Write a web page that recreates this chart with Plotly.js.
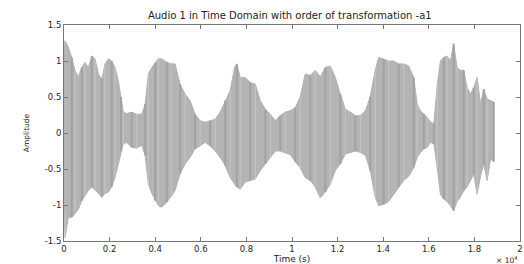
<!DOCTYPE html>
<html>
<head>
<meta charset="utf-8">
<script src="https://cdn.plot.ly/plotly-3.0.1.min.js"></script>
<style>html,body{margin:0;padding:0;background:#fff;}#chart{width:524px;height:264px;}</style>
</head>
<body>
<div id="chart"></div>
<script>
// Sample index (time axis, samples) at which the waveform envelope was read
const sampleX = [0,50,190,340,480,630,780,920,1070,1220,1360,1510,1660,1800,1950,2090,2240,2380,2500,2600,2750,2970,3190,3410,3560,3700,3850,4000,4140,4290,4510,4700,4870,5090,5310,5530,5750,5970,6190,6410,6630,6850,7070,7290,7480,7580,7730,7950,8170,8390,8610,8830,9050,9270,9480,9700,9920,10140,10360,10580,10800,11020,11240,11460,11680,11900,12120,12340,12560,12780,13000,13220,13430,13650,13800,14020,14240,14460,14680,14900,15120,15340,15490,15630,15780,15930,16070,16220,16370,16510,16660,16800,16950,17090,17240,17390,17530,17680,17830,17970,18120,18270,18410,18560,18710,18850];
// Upper envelope (max amplitude) at each sample
const upperEnv = [1.22,1.28,1.19,1.05,0.87,0.78,0.91,0.98,0.91,1.07,1.03,0.82,0.75,0.96,1.03,1.0,0.91,0.73,0.5,0.29,0.27,0.29,0.26,0.26,0.4,0.82,0.91,0.98,1.03,1.03,0.98,0.96,0.96,0.68,0.54,0.45,0.26,0.17,0.15,0.17,0.19,0.29,0.45,0.59,0.91,0.96,0.77,0.77,0.70,0.68,0.45,0.33,0.26,0.17,0.24,0.29,0.31,0.35,0.5,0.82,0.8,0.87,0.78,0.91,0.93,0.77,0.54,0.33,0.29,0.24,0.24,0.31,0.5,0.87,1.05,1.03,1.0,1.0,0.96,0.96,0.93,0.77,0.4,0.31,0.26,0.22,0.15,0.13,0.66,1.0,1.05,1.07,1.0,1.24,0.91,0.87,0.87,0.63,0.54,0.63,0.77,0.4,0.61,0.47,0.45,0.43];
// Lower envelope (min amplitude) at each sample
const lowerEnv = [-1.1,-1.45,-1.17,-1.17,-1.12,-1.06,-0.94,-0.87,-0.80,-0.75,-0.80,-0.84,-0.89,-0.84,-0.82,-0.75,-0.62,-0.43,-0.25,-0.15,-0.13,-0.2,-0.21,-0.17,-0.31,-0.71,-0.84,-0.94,-1.01,-1.03,-0.96,-0.88,-0.8,-0.57,-0.43,-0.34,-0.22,-0.18,-0.13,-0.18,-0.25,-0.34,-0.45,-0.62,-0.71,-0.75,-0.78,-0.68,-0.66,-0.64,-0.52,-0.43,-0.34,-0.25,-0.25,-0.27,-0.3,-0.4,-0.48,-0.62,-0.66,-0.75,-0.9,-0.82,-0.71,-0.52,-0.43,-0.29,-0.27,-0.25,-0.27,-0.31,-0.52,-0.89,-1.01,-0.99,-0.95,-0.85,-0.75,-0.66,-0.6,-0.48,-0.34,-0.27,-0.22,-0.2,-0.13,-0.15,-0.48,-0.85,-0.92,-0.95,-1.01,-1.08,-0.95,-0.89,-0.8,-0.75,-0.66,-0.57,-0.85,-0.6,-0.43,-0.66,-0.36,-0.4];

const xTickVals = [0,2000,4000,6000,8000,10000,12000,14000,16000,18000,20000];
const xTickText = ['0','0.2','0.4','0.6','0.8','1','1.2','1.4','1.6','1.8','2'];
const yTickVals = [-1.5,-1,-0.5,0,0.5,1,1.5];
const yTickText = ['-1.5','-1','-0.5','0','0.5','1','1.5'];

// vertical strokes between envelopes for waveform texture
const segX = [], segY = [], segX2 = [];
const segY2 = [];
sampleX.forEach((x, i) => {
  if (i % 3 === 0) { segX.push(x, x, null); segY.push(lowerEnv[i], upperEnv[i], null); }
  else if (i % 3 === 1) { segX2.push(x, x, null); segY2.push(lowerEnv[i], upperEnv[i], null); }
});

const traces = [
  {x: sampleX, y: lowerEnv, type: 'scatter', mode: 'lines', line: {color: '#b2b2b2', width: 1}, hoverinfo: 'skip', showlegend: false},
  {x: sampleX, y: upperEnv, type: 'scatter', mode: 'lines', fill: 'tonexty', fillcolor: '#b4b4b4', line: {color: '#b2b2b2', width: 1}, hoverinfo: 'skip', showlegend: false},
  {x: segX, y: segY, type: 'scatter', mode: 'lines', line: {color: '#a2a2a2', width: 2}, hoverinfo: 'skip', showlegend: false},
  {x: segX2, y: segY2, type: 'scatter', mode: 'lines', line: {color: '#c6c6c6', width: 1}, hoverinfo: 'skip', showlegend: false}
];

const fam = 'DejaVu Sans, Verdana, sans-serif';
const axisFont = {family: fam, size: 8.5, color: '#222'};
const layout = {
  width: 524, height: 264,
  margin: {l: 64, r: 4, t: 25, b: 23},
  paper_bgcolor: '#fff', plot_bgcolor: '#fff',
  showlegend: false,
  title: {text: 'Audio 1 in Time Domain with order of transformation -a1', font: {family: fam, size: 10, color: '#222'}, x: 0.553, xanchor: 'center', y: 0.94, yanchor: 'middle'},
  xaxis: {
    range: [0, 20000], tickvals: xTickVals, ticktext: xTickText,
    ticks: 'inside', ticklen: 4, tickcolor: '#777', showline: true, linecolor: '#777', linewidth: 1, mirror: 'ticks',
    showgrid: false, zeroline: false, tickfont: axisFont, automargin: false,
    title: {text: 'Time (s)', font: {family: fam, size: 9, color: '#222'}, standoff: 1}
  },
  yaxis: {
    range: [-1.5, 1.5], tickvals: yTickVals, ticktext: yTickText,
    ticks: 'inside', ticklen: 4, tickcolor: '#777', showline: true, linecolor: '#777', linewidth: 1, mirror: 'ticks',
    showgrid: false, zeroline: false, tickfont: axisFont, automargin: false,
    title: {text: 'Amplitude', font: {family: fam, size: 7.5, color: '#222'}, standoff: 14}
  },
  annotations: [
    {text: '× 10<sup>4</sup>', xref: 'paper', yref: 'paper', x: 1.0, y: -0.056, xanchor: 'right', yanchor: 'top', showarrow: false, font: {family: fam, size: 7.5, color: '#222'}}
  ]
};

Plotly.newPlot('chart', traces, layout, {staticPlot: true, displayModeBar: false});
</script>
</body>
</html>
